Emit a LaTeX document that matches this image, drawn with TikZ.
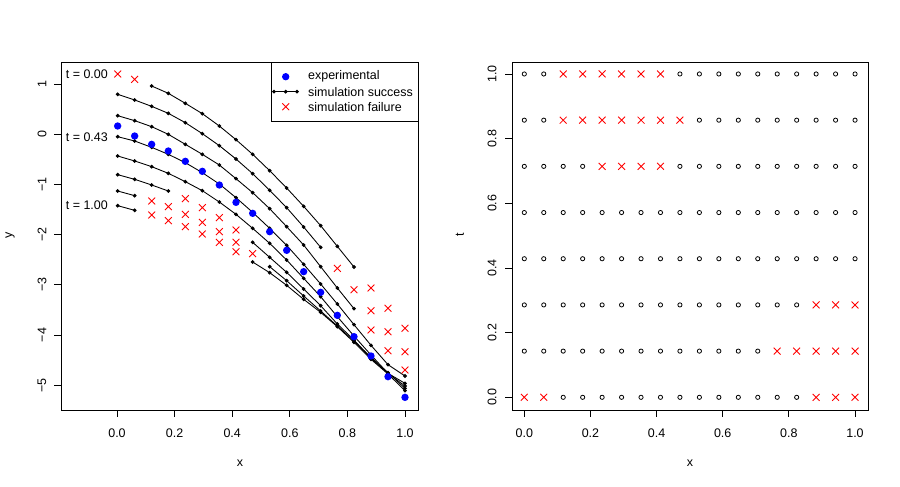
\documentclass[tikz,border=0pt]{standalone}
\usepackage{fontspec}
\setmainfont{Liberation Sans}
\usetikzlibrary{shapes.misc}
\tikzset{
  okpt/.style={circle, draw, line width=0.45pt, inner sep=0pt, minimum size=2.4pt},
  failpt/.style={cross out, draw=red, line width=0.5pt, inner sep=0pt, minimum size=3.4pt},
  exppt/.style={circle, fill=blue, inner sep=0pt, minimum size=4.2pt},
  simline/.style={line width=0.5pt, mark=*, mark size=0.8pt},
  lbl/.style={font=\fontsize{7.1}{8.5}\selectfont, inner sep=1pt}
}
\begin{document}
\begin{tikzpicture}[x=0.02cm, y=-0.02cm, line width=0.5pt]
  \useasboundingbox (0,0) rectangle (900,487);

  % left frame and axes
  \draw (61,62) rectangle (418,410);
  \foreach \v [count=\k from 0] in {0.0,0.2,0.4,0.6,0.8,1.0} {
    \draw (117+57.6*\k,410) -- (117+57.6*\k,417);
    \node[lbl] at (117+57.6*\k,433) {\v};
  }
  \foreach \v [count=\k from 0] in {1,0,\textminus1,\textminus2,\textminus3,\textminus4,\textminus5} {
    \draw (61,84+50.2*\k) -- (54,84+50.2*\k);
    \node[lbl, rotate=90] at (42,84+50.2*\k) {\v};
  }
  \node[lbl] (xlabA) at (240,463) {x};
  \node[lbl, rotate=90] (ylabA) at (10,235) {y};

  % curve labels
  \node[lbl, anchor=east] (tzero) at (110,74) {t = 0.00};
  \node[lbl, anchor=east] (tmid) at (110,137) {t = 0.43};
  \node[lbl, anchor=east] (tone) at (110,205) {t = 1.00};

  % simulated curves and experimental points
  \begin{scope}[shift={(60,50)}, scale=1/3, simline/.append style={mark size=2.4pt}]
    \draw[simline] plot coordinates {(275,108)(325,130)(376,160)(427,191)(478,228)(528,269)(578,313)(629,362)(680,414)(731,469)(782,527)(832,589)(882,651)};
    \draw[simline] plot coordinates {(173,133)(224,150)(275,169)(325,190)(376,218)(427,251)(478,287)(528,327)(578,371)(629,421)(680,473)(731,531)(782,592)};
    \draw[simline] plot coordinates {(173,197)(224,212)(275,230)(325,253)(376,283)(427,313)(478,345)(528,386)(578,428)(629,476)(680,530)(731,585)(782,650)(832,714)(882,776)};
    \draw[simline] plot coordinates {(173,260)(224,273)(275,292)(325,313)(376,338)(427,368)(478,402)(528,443)(578,487)(629,535)(680,586)(731,643)(782,702)(832,762)(882,824)(933,886)(984,944)(1035,978)};
    \draw[simline] plot coordinates {(173,318)(224,333)(275,350)(325,370)(376,395)(427,422)(478,456)(528,493)(578,535)(629,580)(680,630)(731,685)(782,740)(832,800)(882,858)(933,915)(984,970)(1035,1000)};
    \draw[simline] plot coordinates {(173,374)(224,388)(275,405)(325,423)};
    \draw[simline] plot coordinates {(578,577)(629,622)(680,667)(731,717)(782,767)(832,822)(882,870)(933,925)(984,970)(1035,1008)};
    \draw[simline] plot coordinates {(173,423)(224,437)};
    \draw[simline] plot coordinates {(629,650)(680,692)(731,738)(782,783)(832,828)(882,873)(933,922)(984,968)(1035,1015)};
    \draw[simline] plot coordinates {(173,467)(224,481)};
    \draw[simline] plot coordinates {(578,636)(629,668)(680,706)(731,748)(782,787)(832,830)(882,877)(933,928)(984,972)(1035,1022)};

    \foreach \p in {(173,72),(224,88),(933,714),(984,775),(1035,835),
                    (832,655),(882,719),(933,782),(984,845),(1035,905),
                    (933,840),(984,902),(1035,960),
                    (376,446),(427,473),(478,503),(528,540),
                    (275,453),(325,470),(376,493),(427,517),(478,545),(528,577),(578,611),
                    (275,495),(325,512),(376,530),(427,552),(478,577),(528,605)}
      \node[failpt] at \p {};

    \foreach \p in {(173,228),(224,258),(275,283),(325,303),(376,334),(427,364),(478,405),(528,457),(578,490),(629,545),(680,601),(731,665),(782,727),(832,796),(882,860),(933,918),(984,980),(1035,1042)}
      \node[exppt] at \p {};
  \end{scope}

  % legend
  \draw[fill=white] (271,62) rectangle (418,121);
  \node[exppt] (legexp) at (285.7,76.7) {};
  \node[lbl, anchor=west] at (306,76.7) {experimental};
  \draw[simline] plot coordinates {(274,91.7)(285.7,91.7)(297,91.7)};
  \node[lbl, anchor=west] at (306,91.7) {simulation success};
  \node[failpt] (legfail) at (285.7,106.7) {};
  \node[lbl, anchor=west] at (306,106.7) {simulation failure};

  % right frame and axes
  \draw (512,62) rectangle (868,410);
  \foreach \v [count=\k from 0] in {0.0,0.2,0.4,0.6,0.8,1.0} {
    \draw (524.3+66.14*\k,410) -- (524.3+66.14*\k,417);
    \node[lbl] at (524.3+66.14*\k,433) {\v};
    \draw (512,397.3-64.66*\k) -- (505,397.3-64.66*\k);
    \node[lbl, rotate=90] at (492,397.3-64.66*\k) {\v};
  }
  \node[lbl] (xlabB) at (690,463) {x};
  \node[lbl, rotate=90] (tlabB) at (460,235) {t};

  % design grid
  \foreach \j/\oks/\fails in {0/{2,...,14}/{0,1,15,16,17},
                              1/{0,...,12}/{13,...,17},
                              2/{0,...,14}/{15,16,17},
                              5/{0,...,3,8,9,...,17}/{4,...,7},
                              6/{0,1,9,10,...,17}/{2,...,8},
                              7/{0,1,8,9,...,17}/{2,...,7}} {
    \foreach \i in \oks \node[okpt] at (524.3+19.455*\i,397.3-46.19*\j) {};
    \foreach \i in \fails \node[failpt] at (524.3+19.455*\i,397.3-46.19*\j) {};
  }
  \foreach \j in {3,4}
    \foreach \i in {0,...,17} \node[okpt] at (524.3+19.455*\i,397.3-46.19*\j) {};
\end{tikzpicture}
\end{document}
